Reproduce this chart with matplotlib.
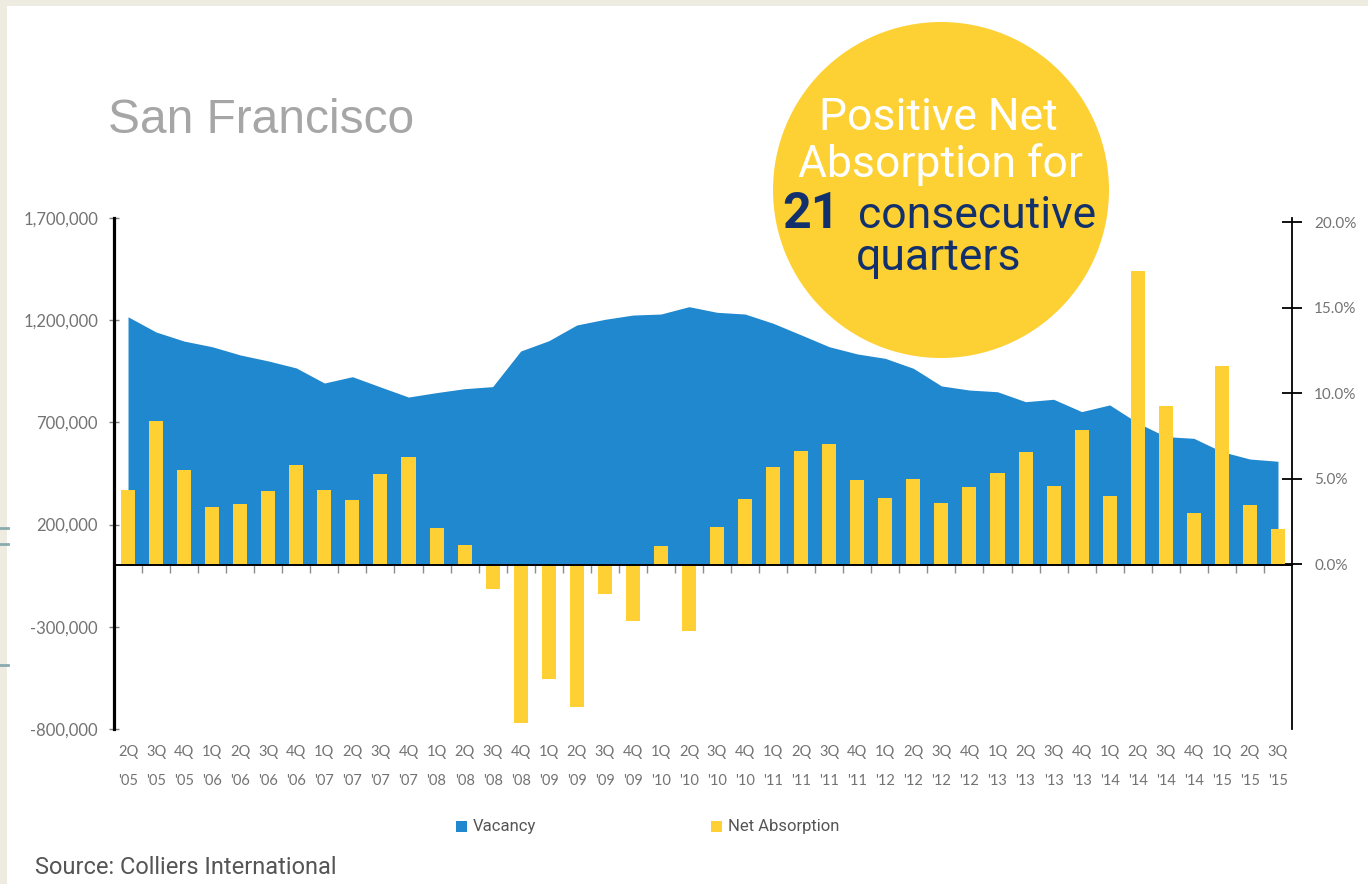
import matplotlib
matplotlib.use('Agg')
import matplotlib.pyplot as plt
from matplotlib.patches import Rectangle, Ellipse
from matplotlib.lines import Line2D
from matplotlib.ticker import FuncFormatter
import matplotlib.transforms as mtransforms
import numpy as np

# ---------------- data ----------------
quarter_labels = ['2Q', '3Q', '4Q',
                  '1Q', '2Q', '3Q', '4Q',
                  '1Q', '2Q', '3Q', '4Q',
                  '1Q', '2Q', '3Q', '4Q',
                  '1Q', '2Q', '3Q', '4Q',
                  '1Q', '2Q', '3Q', '4Q',
                  '1Q', '2Q', '3Q', '4Q',
                  '1Q', '2Q', '3Q', '4Q',
                  '1Q', '2Q', '3Q', '4Q',
                  '1Q', '2Q', '3Q', '4Q',
                  '1Q', '2Q', '3Q']
year_labels = ["'05", "'05", "'05",
               "'06", "'06", "'06", "'06",
               "'07", "'07", "'07", "'07",
               "'08", "'08", "'08", "'08",
               "'09", "'09", "'09", "'09",
               "'10", "'10", "'10", "'10",
               "'11", "'11", "'11", "'11",
               "'12", "'12", "'12", "'12",
               "'13", "'13", "'13", "'13",
               "'14", "'14", "'14", "'14",
               "'15", "'15", "'15"]

net_absorption = [367000, 709000, 468000, 285000, 300000, 365000, 493000,
                  367000, 319000, 450000, 530000, 182000, 98000, -114000,
                  -770000, -556000, -691000, -140000, -274000, 94000, -319000,
                  187000, 323000, 484000, 558000, 595000, 419000, 331000,
                  421000, 305000, 383000, 452000, 554000, 391000, 664000,
                  342000, 1440000, 778000, 256000, 975000, 297000, 178000]

vacancy = [14.47, 13.58, 13.05, 12.72, 12.24, 11.89, 11.48,
           10.60, 10.97, 10.37, 9.78, 10.04, 10.27, 10.39,
           12.47, 13.07, 13.99, 14.32, 14.57, 14.63, 15.06,
           14.73, 14.63, 14.09, 13.41, 12.72, 12.30, 12.04,
           11.46, 10.43, 10.19, 10.09, 9.51, 9.65, 8.93,
           9.32, 8.27, 7.47, 7.37, 6.59, 6.16, 6.03]

left_ticks = [-800000, -300000, 200000, 700000, 1200000, 1700000]
right_ticks = [0, 5, 10, 15, 20]

# ---------------- style ----------------
BLUE = '#2088CF'
YELLOW = '#FFD033'
CIRCLE = '#FDD133'
NAVY = '#12306C'
GRAY = '#737373'
BEIGE = '#EEEBE0'

plt.rcParams['font.family'] = ['Lato', 'DejaVu Sans']

W, H = 1368, 884
fig = plt.figure(figsize=(W / 100, H / 100), dpi=100, facecolor=BEIGE)


def fx(x):
    return x / W


def fy(y):
    return 1 - y / H


# white page area
fig.patches.append(Rectangle((fx(7), 0), 1 - fx(7), fy(6), transform=fig.transFigure,
                             facecolor='white', edgecolor='none', zorder=-10))
# small teal marks on left edge
for yy in (528, 544, 665):
    fig.lines.append(Line2D([0, fx(8)], [fy(yy), fy(yy)], transform=fig.transFigure,
                            color='#8AAAB0', lw=2, zorder=-9))

ax = fig.add_axes([fx(114), fy(729), fx(1292) - fx(114), fy(218) - fy(729)])
ax2 = ax.twinx()
ax.set_zorder(ax2.get_zorder() + 1)
ax.patch.set_visible(False)
ax2.patch.set_visible(False)

x = np.arange(len(vacancy))
ax2.fill_between(x, vacancy, 0, color=BLUE, lw=0)
ax.bar(x, net_absorption, width=0.5, color=YELLOW, zorder=2)

ax.set_xlim(-0.5, len(x) - 0.5)
ax.set_ylim(-800000, 1700000)
ax.set_yticks(left_ticks)
ax.yaxis.set_major_formatter(FuncFormatter(lambda v, p: f'{int(v):,}'))
ax2.set_ylim(-9.61, 20.24)
ax2.set_yticks(right_ticks)
ax2.yaxis.set_major_formatter(FuncFormatter(lambda v, p: f'{v:.1f}%'))

for s in ('top', 'right'):
    ax.spines[s].set_visible(False)
ax.spines['left'].set_linewidth(2.3)
ax.spines['left'].set_color('black')
ax.spines['bottom'].set_position(('data', 0))
ax.spines['bottom'].set_linewidth(1.4)
ax.spines['bottom'].set_color('black')
for s in ('left', 'top', 'bottom'):
    ax2.spines[s].set_visible(False)
ax2.spines['right'].set_linewidth(1.3)
ax2.spines['right'].set_color('black')

ax.set_xticks(np.arange(0.5, len(x) - 1, 1.0))
ax.tick_params(axis='x', direction='out', length=6, width=1, color='#8C8C8C',
               labelbottom=False)
ax.tick_params(axis='y', direction='inout', length=7, width=1, color='#808080',
               labelsize=12, labelcolor=GRAY, pad=8)
ax2.tick_params(axis='y', direction='inout', length=14, width=1.3, color='black',
                labelsize=11, labelcolor=GRAY, pad=9)

# category labels (two lines)
tr = mtransforms.blended_transform_factory(ax.transData, fig.transFigure)
for i, (q, yr) in enumerate(zip(quarter_labels, year_labels)):
    ax.text(i, fy(752), q, transform=tr, ha='center', va='center',
            fontsize=10.5, color=GRAY, clip_on=False)
    ax.text(i, fy(781), yr, transform=tr, ha='center', va='center',
            fontsize=10.5, color=GRAY, clip_on=False)

# title
fig.text(fx(108), fy(133), 'San Francisco', fontsize=34.5, color='#A6A6A6',
         family=['Liberation Sans', 'DejaVu Sans'], ha='left', va='baseline')

# circle callout
fig.patches.append(Ellipse((fx(941), fy(190)), 2 * 168 / W, 2 * 168 / H,
                           transform=fig.transFigure, facecolor=CIRCLE,
                           edgecolor='none', zorder=5))
cfam = ['Roboto', 'DejaVu Sans']
fig.text(fx(938), fy(130), 'Positive Net', fontsize=32, color='white', family=cfam,
         ha='center', va='baseline', zorder=6)
fig.text(fx(940), fy(177), 'Absorption for', fontsize=32, color='white', family=cfam,
         ha='center', va='baseline', zorder=6)
fig.text(fx(840), fy(228), '21', fontsize=36, color=NAVY, family=cfam, weight='bold',
         ha='right', va='baseline', zorder=6)
fig.text(fx(858), fy(228), 'consecutive', fontsize=32, color=NAVY, family=cfam,
         ha='left', va='baseline', zorder=6)
fig.text(fx(939), fy(270), 'quarters', fontsize=32, color=NAVY, family=cfam,
         ha='center', va='baseline', zorder=6)

# legend
lfam = ['Roboto', 'DejaVu Sans']
fig.patches.append(Rectangle((fx(456), fy(832)), 11 / W, 11 / H, transform=fig.transFigure,
                             facecolor=BLUE, edgecolor='none'))
fig.text(fx(473), fy(826.5), 'Vacancy', fontsize=12, color='#555555', family=lfam,
         ha='left', va='center')
fig.patches.append(Rectangle((fx(711), fy(832)), 11 / W, 11 / H, transform=fig.transFigure,
                             facecolor=YELLOW, edgecolor='none'))
fig.text(fx(728), fy(826.5), 'Net Absorption', fontsize=12, color='#555555', family=lfam,
         ha='left', va='center')

# source
fig.text(fx(35), fy(868), 'Source: Colliers International', fontsize=17, color='#555555',
         family=lfam, ha='left', va='center')

fig.savefig('out.png', dpi=100, facecolor=fig.get_facecolor())
